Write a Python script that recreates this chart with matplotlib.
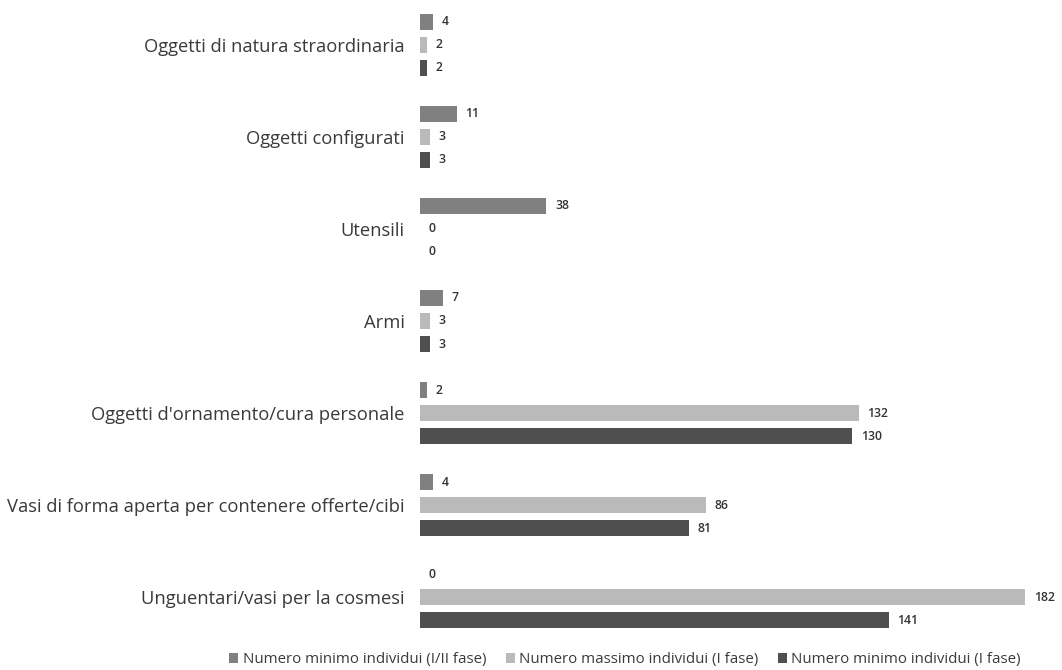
import matplotlib
matplotlib.use("Agg")
import matplotlib.pyplot as plt
import numpy as np

categories = [
    "Oggetti di natura straordinaria",
    "Oggetti configurati",
    "Utensili",
    "Armi",
    "Oggetti d'ornamento/cura personale",
    "Vasi di forma aperta per contenere offerte/cibi",
    "Unguentari/vasi per la cosmesi",
]
series_names = [
    "Numero minimo individui (I/II fase)",
    "Numero massimo individui (I fase)",
    "Numero minimo individui (I fase)",
]
min_I_II = [4, 11, 38, 7, 2, 4, 0]
max_I = [2, 3, 0, 3, 132, 86, 182]
min_I = [2, 3, 0, 3, 130, 81, 141]

colors = ["#808080", "#bababa", "#4f4f4f"]

plt.rcParams['font.family'] = ['Open Sans', 'DejaVu Sans']

fig = plt.figure(figsize=(10.62, 6.70), dpi=100)
ax = fig.add_axes([420/1062, 1-634/670, 620/1062, (634-8)/670])

y = np.arange(len(categories))
offsets = [-0.25, 0.0, 0.25]
h = 0.17
for vals, off, c, name in zip([min_I_II, max_I, min_I], offsets, colors, series_names):
    ax.barh(y + off, vals, height=h, color=c, label=name)
    for yy, v in zip(y + off, vals):
        ax.text(v + 2.6, yy, str(v), va='center', ha='left', fontsize=8.8,
                color='#333333', fontweight='semibold')

ax.set_xlim(0, 186.5)
ax.set_ylim(6.4, -0.4)
ax.set_yticks(y)
ax.set_yticklabels(categories, fontsize=13.2, color='#3a3a3a')
ax.tick_params(axis='y', length=0, pad=11)
ax.set_xticks([])
for s in ax.spines.values():
    s.set_visible(False)

fig.legend(loc='center', bbox_to_anchor=(625/1062, 1-660/670), ncol=3,
           frameon=False, fontsize=10.8, handlelength=0.6, handleheight=0.6,
           handletextpad=0.3, columnspacing=1.3, labelcolor='#3a3a3a')

fig.savefig("out.png", dpi=100)
